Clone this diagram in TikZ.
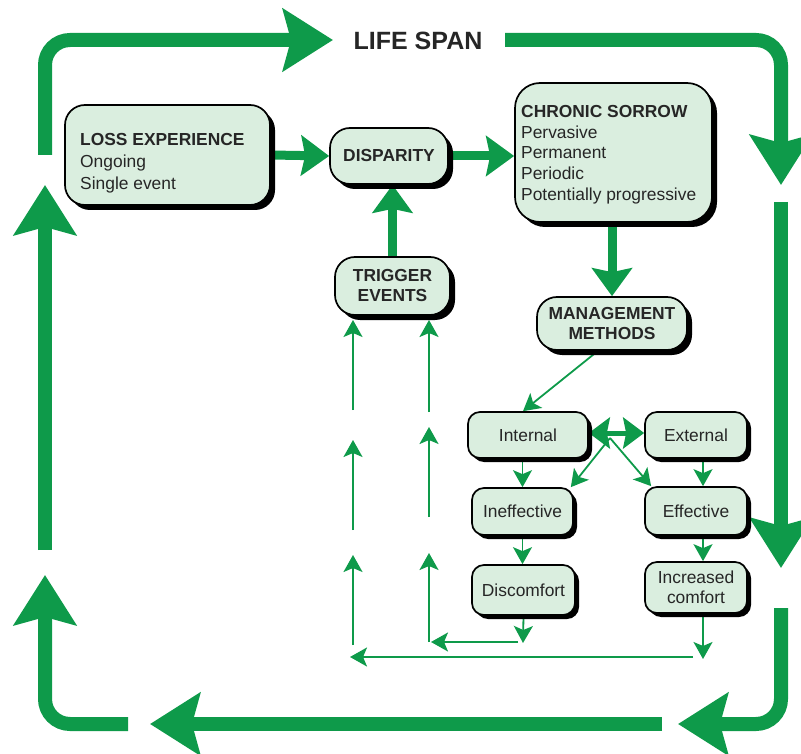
\documentclass[tikz,border=0pt]{standalone}
\usepackage{fontspec}
\setmainfont{Liberation Sans}
\usetikzlibrary{arrows.meta,shadows,calc}
\definecolor{lgreen}{HTML}{0E9A4A}
\definecolor{boxfill}{HTML}{DAEEDF}
\definecolor{ink}{HTML}{262626}
\pgfdeclarelayer{background}
\pgfsetlayers{background,main}
\begin{document}
\begin{tikzpicture}[x=1pt,y=-1pt,
  boxbase/.style={draw=black, line width=1.7pt, fill=boxfill, inner sep=0pt, text=ink, align=center,
    font=\fontsize{17.4}{20}\selectfont},
  bigshadow/.style={drop shadow={shadow xshift=5pt,shadow yshift=-5pt,opacity=1,fill=black}},
  smallshadow/.style={drop shadow={shadow xshift=4pt,shadow yshift=-4pt,opacity=1,fill=black}},
  bigbox/.style={boxbase, bigshadow, rounded corners=20pt},
  smallbox/.style={boxbase, smallshadow, rounded corners=12pt},
  bigarrow/.style={draw=lgreen, line width=14pt, rounded corners=25pt,
    -{Stealth[length=50pt,width=62pt,inset=8pt]}},
  midarrow/.style={draw=lgreen, line width=9pt, -{Stealth[length=28pt,width=40pt,inset=4pt]}},
  thinarrow/.style={draw=lgreen, line width=1.8pt, -{Stealth[length=17pt,width=19pt,inset=4pt]}},
  dblarrow/.style={draw=lgreen, line width=5pt,
    {Stealth[length=21pt,width=31pt,inset=3pt]}-{Stealth[length=21pt,width=31pt,inset=3pt]}},
  txt/.style={inner sep=0pt, text=ink, align=left, anchor=north west}
]
\useasboundingbox (0,0) rectangle (801,754);

% title
\node[font=\fontsize{25}{28}\selectfont\bfseries, text=ink] (title) at (418,41) {LIFE SPAN};

% main boxes
\node[bigbox, minimum width=205pt, minimum height=100pt] (loss) at (167.5,155) {};
\node[txt, font=\fontsize{17.4}{22}\selectfont] (losstext) at (80,133)
  {\textbf{LOSS EXPERIENCE}\\Ongoing\\Single event};

\node[bigbox, minimum width=118pt, minimum height=56pt] (disp) at (389,156) {\textbf{DISPARITY}};

\node[bigbox, rounded corners=25pt, minimum width=197pt, minimum height=139pt] (chronic) at (613.5,152.5) {};
\node[txt, font=\fontsize{17.4}{20.8}\selectfont] (chronictext) at (521,105)
  {\textbf{CHRONIC SORROW}\\Pervasive\\Permanent\\Periodic\\Potentially progressive};

\node[bigbox, minimum width=115pt, minimum height=58pt] (trigger) at (392.5,286)
  {\textbf{TRIGGER}\\\textbf{EVENTS}};
\node[bigbox, minimum width=150pt, minimum height=53pt] (mgmt) at (612,323.5)
  {\textbf{MANAGEMENT}\\\textbf{METHODS}};

% small boxes
\node[smallbox, minimum width=120pt, minimum height=46pt] (internal) at (528,435) {Internal};
\node[smallbox, minimum width=102pt, minimum height=46pt] (external) at (696,435) {External};
\node[smallbox, minimum width=101pt, minimum height=47pt] (ineff) at (522.5,511.5) {Ineffective};
\node[smallbox, minimum width=102pt, minimum height=48pt] (eff) at (696,511) {Effective};
\node[smallbox, minimum width=103pt, minimum height=50pt] (disc) at (523.5,590) {Discomfort};
\node[smallbox, minimum width=102pt, minimum height=51pt] (incr) at (696,587.5) {Increased\\comfort};

% free coordinates
\coordinate (L1a) at (45,155);  \coordinate (L1b) at (45,40);   \coordinate (L1c) at (333,40);
\coordinate (L2a) at (505,40);  \coordinate (L2b) at (781,40);  \coordinate (L2c) at (781,185);
\coordinate (L3a) at (781,202); \coordinate (L3c) at (781,568);
\coordinate (L4a) at (781,608); \coordinate (L4b) at (781,724); \coordinate (L4c) at (678,724);
\coordinate (L5a) at (662,724); \coordinate (L5c) at (150,724);
\coordinate (L6a) at (128,724); \coordinate (L6b) at (45,724);  \coordinate (L6c) at (45,575);
\coordinate (L7a) at (45,550);  \coordinate (L7c) at (45,185);

\coordinate (X) at (610,438);
\coordinate (ia) at (523,643);
\coordinate (ib) at (518,642); \coordinate (ic) at (431,642);
\coordinate (id) at (429,642); \coordinate (ie) at (429,553);
\coordinate (if) at (429,517); \coordinate (ig) at (429,427);
\coordinate (ih) at (429,412); \coordinate (ii) at (429,320);
\coordinate (oa) at (703,659);
\coordinate (ob) at (693,657); \coordinate (oc) at (350,657);
\coordinate (od) at (353,645); \coordinate (oe) at (353,555);
\coordinate (of) at (353,530); \coordinate (og) at (353,440);
\coordinate (oh) at (353,410); \coordinate (oi) at (353,320);

\begin{pgfonlayer}{background}
% outer life span loop
\draw[bigarrow] (L1a) -- (L1b) -- (L1c);
\draw[bigarrow] (L2a) -- (L2b) -- (L2c);
\draw[bigarrow] (L3a) -- (L3c);
\draw[bigarrow] (L4a) -- (L4b) -- (L4c);
\draw[bigarrow] (L5a) -- (L5c);
\draw[bigarrow] (L6a) -- (L6b) -- (L6c);
\draw[bigarrow] (L7a) -- (L7c);

% main flow
\draw[midarrow] (loss.east) -- (disp.west);
\draw[midarrow] (disp.east) -- (disp.east -| chronic.west);
\draw[midarrow] (mgmt.north |- chronic.south) -- (mgmt.north);
\draw[midarrow] (trigger.north) -- (trigger.north |- disp.south);

% management methods
\draw[thinarrow] ([xshift=-14pt]mgmt.south) -- ([xshift=-5pt]internal.north);
\draw[dblarrow] ([yshift=2pt]internal.east) -- ([yshift=2pt]external.west);
\draw[thinarrow] (X) -- ([xshift=-3pt]ineff.north east);
\draw[thinarrow] (X) -- ([xshift=7pt]eff.north west);
\draw[thinarrow] (ineff.north |- internal.south) -- (ineff.north);
\draw[thinarrow] ([xshift=7pt]external.south) -- ([xshift=7pt]eff.north);
\draw[thinarrow] (ineff.south) -- (ineff.south |- disc.north);
\draw[thinarrow] ([xshift=7pt]eff.south) -- ([xshift=7pt]incr.north);

% inner return path
\draw[thinarrow] (disc.south) -- (ia);
\draw[thinarrow] (ib) -- (ic);
\draw[thinarrow] (id) -- (ie);
\draw[thinarrow] (if) -- (ig);
\draw[thinarrow] (ih) -- (ii);

% outer return path
\draw[thinarrow] ([xshift=7pt]incr.south) -- (oa);
\draw[thinarrow] (ob) -- (oc);
\draw[thinarrow] (od) -- (oe);
\draw[thinarrow] (of) -- (og);
\draw[thinarrow] (oh) -- (oi);
\end{pgfonlayer}
\end{tikzpicture}
\end{document}
